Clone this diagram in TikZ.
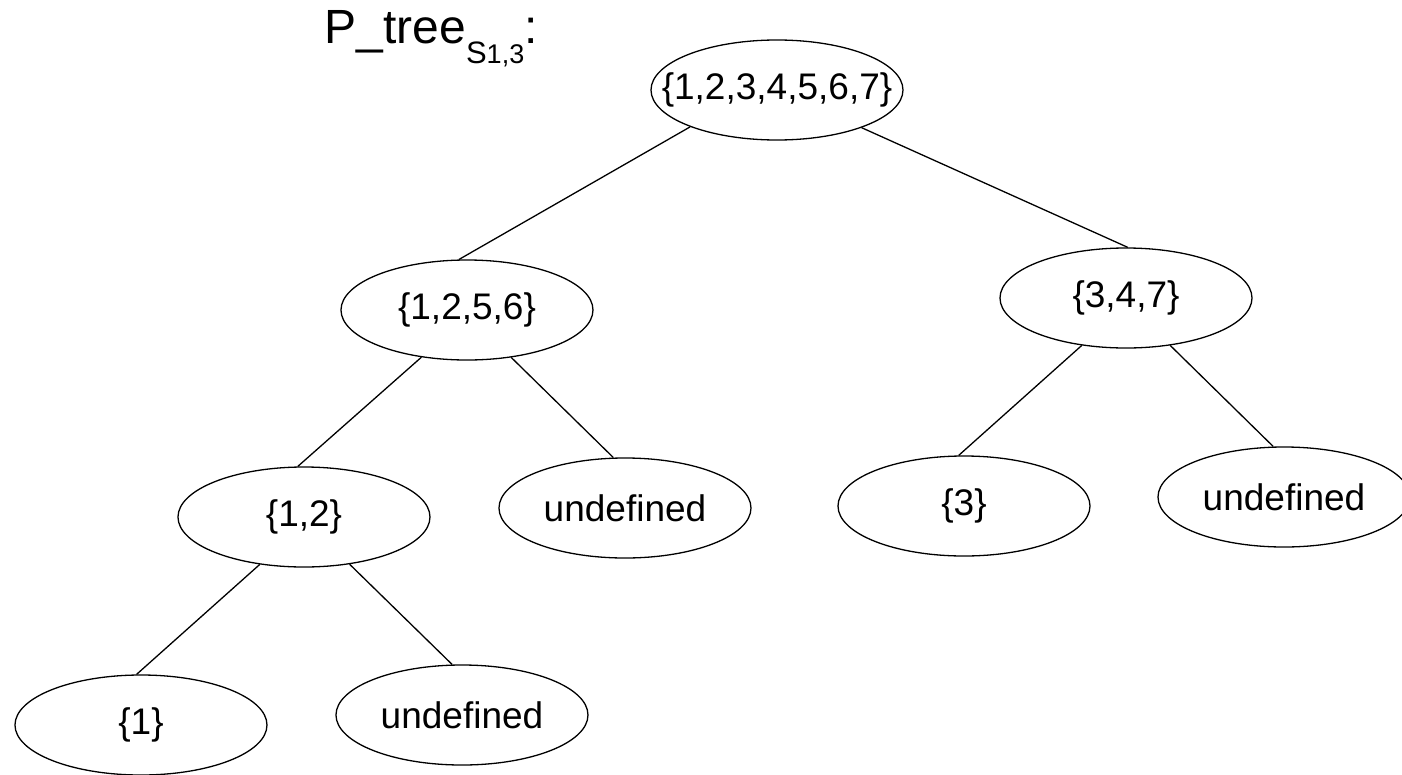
\documentclass[tikz,border=0pt]{standalone}
\usepackage{fontspec}
\setmainfont{Liberation Sans}
\usetikzlibrary{positioning,shapes.geometric}

\begin{document}
\begin{tikzpicture}[x=1pt, y=1pt, on grid, line width=1.3pt,
  setnode/.style={draw, ellipse, minimum width=252pt, minimum height=100pt,
    inner sep=0pt, font=\fontsize{37}{44}\selectfont}]
\useasboundingbox (-777,-684) rectangle (625,90);
\node[setnode] (root) at (0,0) {\makebox[0pt]{\{1,2,3,4,5,6,7\}}};
\node[setnode] (s1256) [below left=220pt and 310pt of root]  {\{1,2,5,6\}};
\node[setnode] (s347)  [below right=208pt and 349pt of root] {\{3,4,7\}};
\node[setnode] (s12)   [below left=207pt and 163pt of s1256] {\{1,2\}};
\node[setnode] (u1)    [below right=198pt and 158pt of s1256] {undefined};
\node[setnode] (s3)    [below left=208pt and 162pt of s347]  {\{3\}};
\node[setnode] (u2)    [below right=199pt and 158pt of s347] {undefined};
\node[setnode] (s1)    [below left=208pt and 163pt of s12]   {\{1\}};
\node[setnode] (u3)    [below right=198pt and 158pt of s12]  {undefined};
\node (title) [anchor=base west, inner sep=0pt, font=\fontsize{48}{56}\selectfont] at (-453,47)
  {P\_tree\raisebox{-20pt}{\fontsize{31}{36}\selectfont S\fontsize{27}{32}\selectfont 1,3}:};

\draw (root.203) -- (s1256.99);
\draw (root.336) -- (s347.88);
\draw (s1256.226) -- (s12.97);
\draw (s1256.313) -- (u1.103);
\draw (s347.227) -- (s3.96);
\draw (s347.313) -- (u2.102);
\draw (s12.227) -- (s1.95);
\draw (s12.314) -- (u3.101);
\end{tikzpicture}
\end{document}
